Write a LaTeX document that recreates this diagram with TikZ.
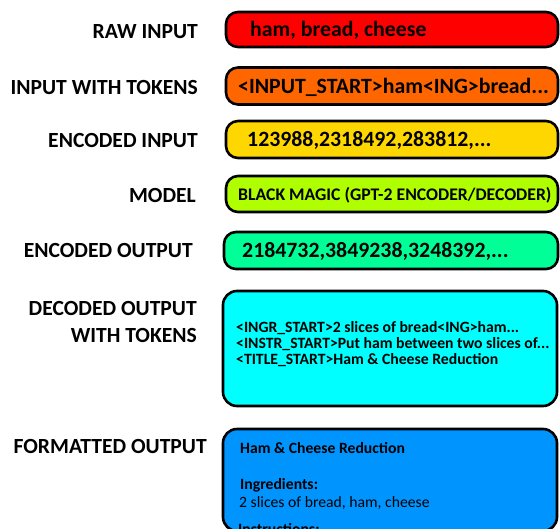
\documentclass[tikz,border=0pt]{standalone}
\usepackage{fontspec}
\setmainfont{Carlito}
\definecolor{cred}{HTML}{FF0000}
\definecolor{corange}{HTML}{FF6600}
\definecolor{cyellow}{HTML}{FFD700}
\definecolor{clime}{HTML}{B0FF00}
\definecolor{cgreen}{HTML}{00FF96}
\definecolor{ccyan}{HTML}{00FFFF}
\definecolor{cblue}{HTML}{0094FF}
\tikzset{
  lbl/.style={anchor=east, inner sep=0pt, font=\fontsize{21.6}{27}\selectfont\bfseries, align=right},
  box/.style={draw=black, line width=2.6pt, rounded corners=12pt, inner sep=0pt},
  big/.style={anchor=west, inner sep=0pt, font=\fontsize{21.8}{25}\selectfont\bfseries},
  mid/.style={anchor=west, inner sep=0pt, font=\fontsize{17.7}{20}\selectfont\bfseries},
  small/.style={anchor=west, inner sep=0pt, font=\fontsize{15.7}{15.8}\selectfont\bfseries, align=left},
  reg/.style={anchor=west, inner sep=0pt, font=\fontsize{15.7}{15.8}\selectfont},
}
\begin{document}
\begin{tikzpicture}[x=1pt,y=-1pt]
\useasboundingbox (0,0) rectangle (560,528);
\clip (0,0) rectangle (560,528);
% boxes
\node[box, fill=cred, minimum width=332pt, minimum height=35pt] (b1) at (392,29.5) {};
\node[box, fill=corange, minimum width=332pt, minimum height=37pt] (b2) at (392,86) {};
\node[box, fill=cyellow, minimum width=332pt, minimum height=37pt] (b3) at (392,139.5) {};
\node[box, fill=clime, minimum width=332pt, minimum height=36pt] (b4) at (392,194) {};
\node[box, fill=cgreen, minimum width=334pt, minimum height=37pt] (b5) at (391,250.5) {};
\node[box, fill=ccyan, minimum width=334pt, minimum height=115pt, rounded corners=14pt] (b6) at (390,348.5) {};
\node[box, fill=cblue, minimum width=334pt, minimum height=102pt, rounded corners=14pt] (b7) at (390,480) {};
% box texts
\node[big] (t1) at (250,30) {ham, bread, cheese};
\node[big] (t2) at (238,87) {<INPUT\_START>ham<ING>bread...};
\node[big] (t3) at (247,140) {123988,2318492,283812,...};
\node[mid] (t4) at (238,195) {BLACK MAGIC (GPT-2 ENCODER/DECODER)};
\node[big] (t5) at (242,251) {2184732,3849238,3248392,...};
\node[small] (t6) at (236,344) {<INGR\_START>2 slices of bread<ING>ham...\\<INSTR\_START>Put ham between two slices of...\\<TITLE\_START>Ham \& Cheese Reduction};
\node[small] (t7a) at (240,448) {Ham \& Cheese Reduction};
\node[small] (t7b) at (240,485) {Ingredients:};
\node[reg] (t7c) at (239,503.5) {2 slices of bread, ham, cheese};
\node[small] (t7d) at (238,529) {Instructions:};
% labels
\node[lbl] (l1) at (198,32) {RAW INPUT};
\node[lbl] (l2) at (198,87) {INPUT WITH TOKENS};
\node[lbl] (l3) at (198,140) {ENCODED INPUT};
\node[lbl] (l4) at (196,195) {MODEL};
\node[lbl] (l5) at (193,250) {ENCODED OUTPUT};
\node[lbl] (l6) at (197,322) {DECODED OUTPUT\\WITH TOKENS};
\node[lbl] (l7) at (207,446) {FORMATTED OUTPUT};
\end{tikzpicture}
\end{document}
